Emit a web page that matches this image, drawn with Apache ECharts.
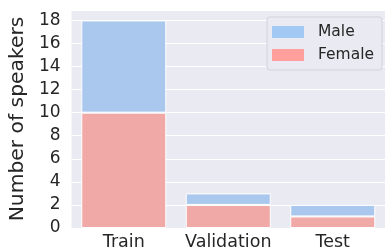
<!DOCTYPE html>
<html><head><meta charset="utf-8">
<script src="https://cdn.jsdelivr.net/npm/echarts@6/dist/echarts.min.js"></script>
<style>html,body{margin:0;padding:0;background:#fff}#c{width:385px;height:251px}</style>
</head><body><div id="c"></div>
<script>
const categories = ['Train', 'Validation', 'Test'];
const femaleValues = [10, 2, 1];
const maleValues = [8, 1, 1];
const yTicks = [0, 2, 4, 6, 8, 10, 12, 14, 16, 18];

const FONT = 'DejaVu Sans';
const TXT = '#262626';
const chart = echarts.init(document.getElementById('c'), null, {renderer: 'canvas'});
chart.setOption({
  animation: false,
  backgroundColor: '#ffffff',
  grid: {left: 67, top: 10, width: 324, bottom: 19, backgroundColor: '#EAEAF2', show: true, borderWidth: 0},
  legend: {
    orient: 'vertical', left: 267, top: 17,
    padding: [7, 8, 7, 5],
    itemWidth: 32, itemHeight: 12, itemGap: 7,
    backgroundColor: '#EAEAF2', borderColor: '#D2D2DA', borderWidth: 1, borderRadius: 3,
    textStyle: {fontFamily: FONT, fontSize: 15.5, color: TXT, padding: [0, 0, 0, 9], lineHeight: 16},
    data: [
      {name: 'Male', icon: 'rect', itemStyle: {color: '#A1C9F4', borderWidth: 0}},
      {name: 'Female', icon: 'rect', itemStyle: {color: '#FF9F9B', borderWidth: 0}}
    ]
  },
  xAxis: {
    type: 'category', data: categories,
    axisLine: {show: false}, axisTick: {show: false},
    axisLabel: {fontFamily: FONT, fontSize: 17.5, color: TXT, margin: 5, interval: 0},
    splitLine: {show: false}
  },
  yAxis: {
    type: 'value', min: 0, max: 18.9, interval: 2,
    name: 'Number of speakers', nameLocation: 'middle', nameGap: 40,
    nameTextStyle: {fontFamily: FONT, fontSize: 20.3, color: TXT},
    axisLine: {show: false}, axisTick: {show: false},
    axisLabel: {fontFamily: FONT, fontSize: 17, color: TXT, margin: 11, showMaxLabel: false,
      formatter: v => yTicks.includes(v) ? String(v) : ''},
    splitLine: {lineStyle: {color: '#ffffff', width: 1.2}}
  },
  series: [
    {name: 'Female', type: 'bar', stack: 's', data: femaleValues, barWidth: 85,
     itemStyle: {color: '#F1A9A8', borderColor: '#ffffff', borderWidth: 1}},
    {name: 'Male', type: 'bar', stack: 's', data: maleValues, barWidth: 85,
     itemStyle: {color: '#AAC8EE', borderColor: '#ffffff', borderWidth: 1}}
  ]
});
</script></body></html>
